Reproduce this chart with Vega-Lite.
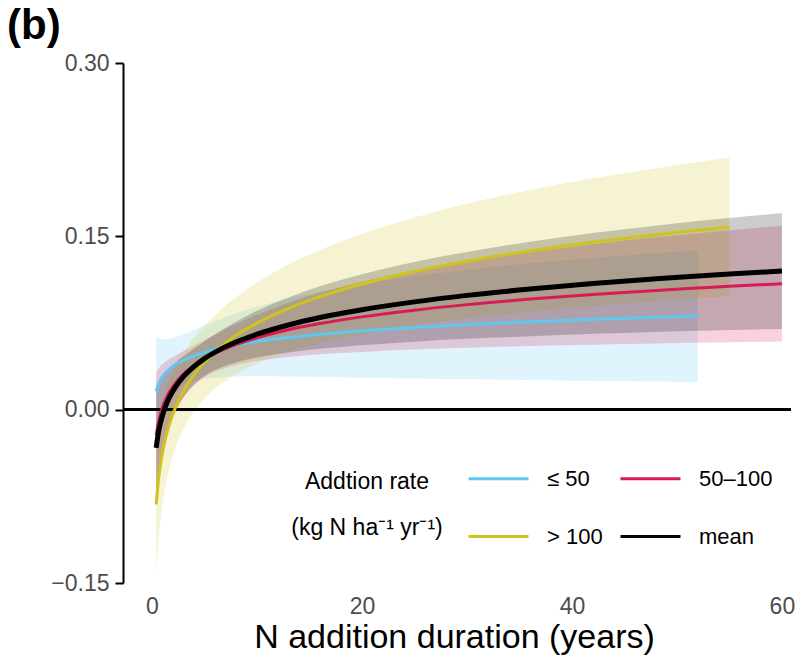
{
  "$schema": "https://vega.github.io/schema/vega-lite/v6.json",
  "width": 682,
  "height": 520,
  "autosize": {"type": "none"},
  "padding": {"left": 123, "top": 63, "right": 6, "bottom": 73},
  "background": "white",
  "config": {
    "font": "Liberation Sans",
    "view": {"stroke": null},
    "axis": {"grid": false}
  },
  "title": {"text": "(b)", "anchor": "start", "frame": "group", "fontSize": 42, "fontWeight": "bold", "color": "black", "dx": -116, "dy": 29, "offset": 0, "baseline": "alphabetic"},
  "data": {
    "values": [
      {"g": "≤ 50", "x": 0.4, "y": 0.0160, "lo": -0.0316, "hi": 0.0636},
      {"g": "≤ 50", "x": 0.6, "y": 0.0214, "lo": -0.0193, "hi": 0.0621},
      {"g": "≤ 50", "x": 0.8, "y": 0.0252, "lo": -0.0109, "hi": 0.0613},
      {"g": "≤ 50", "x": 1, "y": 0.0282, "lo": -0.0046, "hi": 0.0610},
      {"g": "≤ 50", "x": 1.3, "y": 0.0317, "lo": 0.0025, "hi": 0.0609},
      {"g": "≤ 50", "x": 1.7, "y": 0.0353, "lo": 0.0092, "hi": 0.0614},
      {"g": "≤ 50", "x": 2.2, "y": 0.0387, "lo": 0.0149, "hi": 0.0625},
      {"g": "≤ 50", "x": 3, "y": 0.0429, "lo": 0.0207, "hi": 0.0651},
      {"g": "≤ 50", "x": 4, "y": 0.0467, "lo": 0.0245, "hi": 0.0689},
      {"g": "≤ 50", "x": 5, "y": 0.0497, "lo": 0.0266, "hi": 0.0728},
      {"g": "≤ 50", "x": 6.5, "y": 0.0532, "lo": 0.0281, "hi": 0.0783},
      {"g": "≤ 50", "x": 8, "y": 0.0560, "lo": 0.0287, "hi": 0.0833},
      {"g": "≤ 50", "x": 10, "y": 0.0590, "lo": 0.0289, "hi": 0.0891},
      {"g": "≤ 50", "x": 13, "y": 0.0625, "lo": 0.0288, "hi": 0.0962},
      {"g": "≤ 50", "x": 16, "y": 0.0652, "lo": 0.0283, "hi": 0.1021},
      {"g": "≤ 50", "x": 20, "y": 0.0682, "lo": 0.0277, "hi": 0.1087},
      {"g": "≤ 50", "x": 25, "y": 0.0712, "lo": 0.0270, "hi": 0.1154},
      {"g": "≤ 50", "x": 30, "y": 0.0736, "lo": 0.0263, "hi": 0.1209},
      {"g": "≤ 50", "x": 36, "y": 0.0761, "lo": 0.0256, "hi": 0.1266},
      {"g": "≤ 50", "x": 42, "y": 0.0781, "lo": 0.0249, "hi": 0.1313},
      {"g": "≤ 50", "x": 48, "y": 0.0799, "lo": 0.0243, "hi": 0.1355},
      {"g": "≤ 50", "x": 52, "y": 0.0810, "lo": 0.0240, "hi": 0.1380},

      {"g": "50–100", "x": 0.4, "y": -0.0220, "lo": -0.0763, "hi": 0.0323},
      {"g": "50–100", "x": 0.6, "y": -0.0114, "lo": -0.0581, "hi": 0.0353},
      {"g": "50–100", "x": 0.8, "y": -0.0038, "lo": -0.0451, "hi": 0.0375},
      {"g": "50–100", "x": 1, "y": 0.0020, "lo": -0.0353, "hi": 0.0393},
      {"g": "50–100", "x": 1.3, "y": 0.0089, "lo": -0.0238, "hi": 0.0416},
      {"g": "50–100", "x": 1.7, "y": 0.0159, "lo": -0.0123, "hi": 0.0441},
      {"g": "50–100", "x": 2.2, "y": 0.0226, "lo": -0.0015, "hi": 0.0467},
      {"g": "50–100", "x": 3, "y": 0.0307, "lo": 0.0107, "hi": 0.0507},
      {"g": "50–100", "x": 4, "y": 0.0382, "lo": 0.0210, "hi": 0.0554},
      {"g": "50–100", "x": 5, "y": 0.0441, "lo": 0.0280, "hi": 0.0602},
      {"g": "50–100", "x": 6.5, "y": 0.0509, "lo": 0.0345, "hi": 0.0673},
      {"g": "50–100", "x": 8, "y": 0.0564, "lo": 0.0387, "hi": 0.0741},
      {"g": "50–100", "x": 10, "y": 0.0622, "lo": 0.0422, "hi": 0.0822},
      {"g": "50–100", "x": 13, "y": 0.0691, "lo": 0.0456, "hi": 0.0926},
      {"g": "50–100", "x": 16, "y": 0.0745, "lo": 0.0479, "hi": 0.1011},
      {"g": "50–100", "x": 20, "y": 0.0803, "lo": 0.0500, "hi": 0.1106},
      {"g": "50–100", "x": 25, "y": 0.0861, "lo": 0.0520, "hi": 0.1202},
      {"g": "50–100", "x": 30, "y": 0.0909, "lo": 0.0536, "hi": 0.1282},
      {"g": "50–100", "x": 36, "y": 0.0957, "lo": 0.0551, "hi": 0.1363},
      {"g": "50–100", "x": 42, "y": 0.0997, "lo": 0.0562, "hi": 0.1432},
      {"g": "50–100", "x": 48, "y": 0.1032, "lo": 0.0573, "hi": 0.1491},
      {"g": "50–100", "x": 52, "y": 0.1053, "lo": 0.0579, "hi": 0.1527},
      {"g": "50–100", "x": 55, "y": 0.1068, "lo": 0.0583, "hi": 0.1553},
      {"g": "50–100", "x": 60, "y": 0.1090, "lo": 0.0589, "hi": 0.1591},

      {"g": "> 100", "x": 0.4, "y": -0.0820, "lo": -0.1421, "hi": -0.0219},
      {"g": "> 100", "x": 0.6, "y": -0.0622, "lo": -0.1153, "hi": -0.0091},
      {"g": "> 100", "x": 0.8, "y": -0.0482, "lo": -0.0966, "hi": 0.0002},
      {"g": "> 100", "x": 1, "y": -0.0373, "lo": -0.0823, "hi": 0.0077},
      {"g": "> 100", "x": 1.3, "y": -0.0245, "lo": -0.0658, "hi": 0.0168},
      {"g": "> 100", "x": 1.7, "y": -0.0114, "lo": -0.0493, "hi": 0.0265},
      {"g": "> 100", "x": 2.2, "y": 0.0011, "lo": -0.0341, "hi": 0.0363},
      {"g": "> 100", "x": 3, "y": 0.0162, "lo": -0.0166, "hi": 0.0490},
      {"g": "> 100", "x": 4, "y": 0.0303, "lo": -0.0014, "hi": 0.0620},
      {"g": "> 100", "x": 5, "y": 0.0411, "lo": 0.0096, "hi": 0.0726},
      {"g": "> 100", "x": 6.5, "y": 0.0539, "lo": 0.0217, "hi": 0.0861},
      {"g": "> 100", "x": 8, "y": 0.0641, "lo": 0.0308, "hi": 0.0974},
      {"g": "> 100", "x": 10, "y": 0.0749, "lo": 0.0398, "hi": 0.1100},
      {"g": "> 100", "x": 13, "y": 0.0877, "lo": 0.0498, "hi": 0.1256},
      {"g": "> 100", "x": 16, "y": 0.0978, "lo": 0.0574, "hi": 0.1382},
      {"g": "> 100", "x": 20, "y": 0.1087, "lo": 0.0652, "hi": 0.1522},
      {"g": "> 100", "x": 25, "y": 0.1196, "lo": 0.0728, "hi": 0.1664},
      {"g": "> 100", "x": 30, "y": 0.1285, "lo": 0.0788, "hi": 0.1782},
      {"g": "> 100", "x": 36, "y": 0.1374, "lo": 0.0847, "hi": 0.1901},
      {"g": "> 100", "x": 42, "y": 0.1449, "lo": 0.0896, "hi": 0.2002},
      {"g": "> 100", "x": 48, "y": 0.1514, "lo": 0.0938, "hi": 0.2090},
      {"g": "> 100", "x": 52, "y": 0.1553, "lo": 0.0964, "hi": 0.2142},
      {"g": "> 100", "x": 55, "y": 0.1580, "lo": 0.0981, "hi": 0.2179},

      {"g": "mean", "x": 0.4, "y": -0.0330, "lo": -0.0835, "hi": 0.0175},
      {"g": "mean", "x": 0.6, "y": -0.0206, "lo": -0.0637, "hi": 0.0225},
      {"g": "mean", "x": 0.8, "y": -0.0118, "lo": -0.0498, "hi": 0.0262},
      {"g": "mean", "x": 1, "y": -0.0050, "lo": -0.0391, "hi": 0.0291},
      {"g": "mean", "x": 1.3, "y": 0.0030, "lo": -0.0267, "hi": 0.0327},
      {"g": "mean", "x": 1.7, "y": 0.0112, "lo": -0.0142, "hi": 0.0366},
      {"g": "mean", "x": 2.2, "y": 0.0191, "lo": -0.0025, "hi": 0.0407},
      {"g": "mean", "x": 3, "y": 0.0286, "lo": 0.0108, "hi": 0.0464},
      {"g": "mean", "x": 4, "y": 0.0373, "lo": 0.0218, "hi": 0.0528},
      {"g": "mean", "x": 5, "y": 0.0442, "lo": 0.0292, "hi": 0.0592},
      {"g": "mean", "x": 6.5, "y": 0.0522, "lo": 0.0363, "hi": 0.0681},
      {"g": "mean", "x": 8, "y": 0.0585, "lo": 0.0409, "hi": 0.0761},
      {"g": "mean", "x": 10, "y": 0.0653, "lo": 0.0451, "hi": 0.0855},
      {"g": "mean", "x": 13, "y": 0.0733, "lo": 0.0495, "hi": 0.0971},
      {"g": "mean", "x": 16, "y": 0.0797, "lo": 0.0527, "hi": 0.1067},
      {"g": "mean", "x": 20, "y": 0.0865, "lo": 0.0558, "hi": 0.1172},
      {"g": "mean", "x": 25, "y": 0.0933, "lo": 0.0588, "hi": 0.1278},
      {"g": "mean", "x": 30, "y": 0.0989, "lo": 0.0613, "hi": 0.1365},
      {"g": "mean", "x": 36, "y": 0.1044, "lo": 0.0635, "hi": 0.1453},
      {"g": "mean", "x": 42, "y": 0.1092, "lo": 0.0656, "hi": 0.1528},
      {"g": "mean", "x": 48, "y": 0.1132, "lo": 0.0672, "hi": 0.1592},
      {"g": "mean", "x": 52, "y": 0.1157, "lo": 0.0682, "hi": 0.1632},
      {"g": "mean", "x": 55, "y": 0.1174, "lo": 0.0689, "hi": 0.1659},
      {"g": "mean", "x": 60, "y": 0.1200, "lo": 0.0699, "hi": 0.1701}
    ]
  },
  "encoding": {
    "x": {
      "field": "x", "type": "quantitative",
      "scale": {"domain": [-2.76, 62.2], "nice": false, "zero": false},
      "axis": {
        "values": [0, 20, 40, 60], "domain": false, "ticks": false,
        "labelFontSize": 23, "labelColor": "#4d4d4d", "labelPadding": 12,
        "title": "N addition duration (years)", "titleFontSize": 34, "titleFontWeight": "normal",
        "titleColor": "black", "titlePadding": 2, "titleX": 331, "titleAlign": "center"
      }
    },
    "y": {
      "field": "y", "type": "quantitative",
      "scale": {"domain": [-0.15, 0.30], "nice": false, "zero": false},
      "axis": {
        "values": [-0.15, 0, 0.15, 0.30], "format": ".2f",
        "domainColor": "black", "domainWidth": 2, "tickColor": "black", "tickWidth": 2, "tickSize": 8,
        "labelFontSize": 23, "labelColor": "#4d4d4d", "labelPadding": 6, "title": null
      }
    },
    "color": {
      "field": "g", "type": "nominal",
      "scale": {"domain": ["≤ 50", "50–100", "> 100", "mean"], "range": ["#5ec8f0", "#d81b55", "#cfc41a", "#000000"]},
      "legend": {
        "orient": "none", "legendX": 168, "legendY": 384,
        "columns": 2, "direction": "horizontal",
        "title": ["Addtion rate", "(kg N ha⁻¹ yr⁻¹)"],
        "titleOrient": "left", "titleAlign": "center", "titleAnchor": "middle", "titleBaseline": "middle",
        "titleFontSize": 23, "titleFontWeight": "normal",
        "titleColor": "black", "titleLineHeight": 46, "titlePadding": -52,
        "symbolType": "stroke", "symbolSize": 3600, "symbolStrokeWidth": 3,
        "labelFontSize": 22, "labelColor": "black", "labelOffset": 17,
        "rowPadding": 15, "columnPadding": 11,
        "encode": {
          "title": {"update": {"dy": {"value": 8}}},
          "symbols": {
            "update": {
              "stroke": {"scale": "color", "field": "value"},
              "strokeWidth": {"value": 3},
              "fill": {"value": "transparent"},
              "opacity": {"value": 1},
              "strokeOpacity": {"value": 1}
            }
          }
        }
      }
    }
  },
  "layer": [
    {
      "mark": {"type": "area", "fillOpacity": 0.2, "interpolate": "monotone"},
      "encoding": {
        "y": {"field": "lo", "type": "quantitative"},
        "y2": {"field": "hi"}
      }
    },
    {
      "mark": {"type": "rule", "color": "black", "strokeWidth": 2},
      "encoding": {"y": {"datum": 0}, "x": {"datum": -2.76}, "x2": {"datum": 60.8}, "color": {"value": "black"}}
    },
    {
      "transform": [{"filter": "datum.g !== 'mean'"}],
      "mark": {"type": "line", "strokeWidth": 3, "interpolate": "monotone"}
    },
    {
      "transform": [{"filter": "datum.g === 'mean'"}],
      "mark": {"type": "line", "strokeWidth": 5, "interpolate": "monotone"}
    }
  ]
}
